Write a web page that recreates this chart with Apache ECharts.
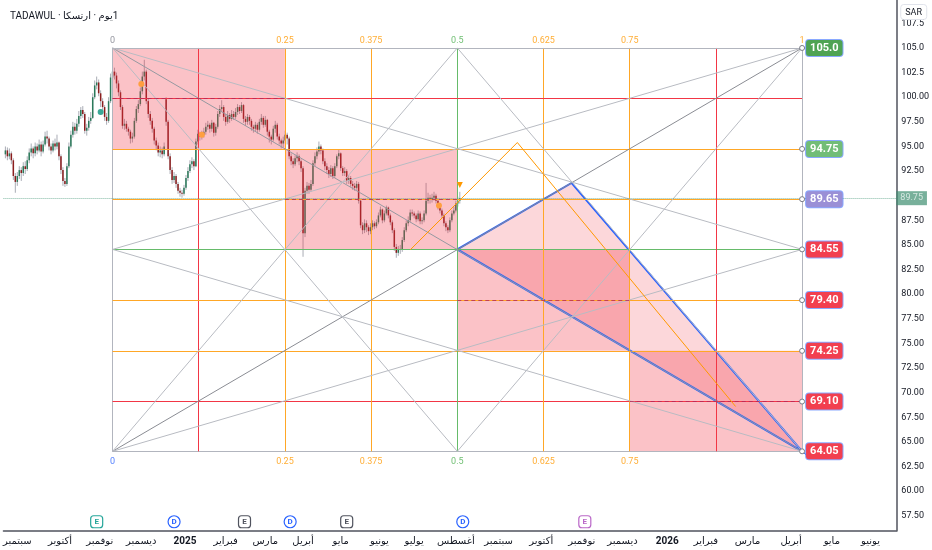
<!DOCTYPE html>
<html>
<head>
<meta charset="utf-8">
<script src="https://cdn.jsdelivr.net/npm/echarts@6/dist/echarts.min.js"></script>
<style>html,body{margin:0;padding:0;background:#fff}#main{width:932px;height:550px}</style>
</head>
<body>
<div id="main"></div>
<script>
// daily candles [open, close, low, high], first one sits on bar 1
const bars = [
[94.2,94.6,93.8,95.0],[94.6,94.0,93.6,94.9],[94.0,94.3,93.7,94.8],[94.3,93.6,93.2,94.5],[93.6,92.0,91.6,93.8],
[92.0,91.4,90.3,92.3],[91.4,92.0,91.0,92.4],[92.0,92.6,91.7,93.0],[92.6,92.3,91.5,92.9],[92.3,93.0,92.0,93.4],
[93.0,92.7,92.2,93.5],[92.7,93.6,92.5,94.0],[93.6,94.4,93.3,94.8],[94.4,94.8,94.0,95.3],[94.8,94.3,93.8,95.0],
[94.3,95.0,94.0,95.4],[95.0,94.6,94.2,95.3],[94.6,95.2,94.4,95.7],[95.2,94.5,94.0,95.5],[94.5,95.2,94.3,95.6],
[95.2,96.0,95.0,96.5],[96.0,95.8,95.3,96.6],[95.8,95.0,94.6,96.0],[95.0,94.6,94.2,95.3],[94.6,95.3,94.4,95.6],
[95.3,95.0,94.6,95.8],[95.0,95.4,94.7,96.2],[95.4,94.0,93.6,95.5],[94.0,92.6,92.2,94.2],[92.6,91.5,91.0,92.9],
[91.5,91.2,90.9,91.8],[91.2,93.0,91.0,93.3],[93.0,95.0,92.8,95.4],[95.0,96.2,94.8,96.6],[96.2,97.0,95.9,97.5],
[97.0,96.6,96.2,97.4],[96.6,97.3,96.3,97.8],[97.3,98.1,97.0,98.6],[98.1,98.7,97.8,99.0],[98.7,98.3,97.9,99.1],
[98.3,96.6,96.3,98.5],[96.6,96.9,96.1,97.3],[96.9,97.6,96.6,98.0],[97.6,97.9,97.3,98.5],[97.9,100.0,97.8,100.4],
[100.0,101.2,99.8,101.7],[101.2,101.5,100.8,102.1],[101.5,100.4,100.1,101.8],[100.4,99.6,99.0,100.7],[99.6,99.0,98.5,99.9],
[99.0,98.0,97.6,99.2],[98.0,97.6,97.2,98.4],[97.6,99.6,97.4,100.0],[99.6,102.0,99.4,102.4],[102.0,102.6,101.7,103.1],
[102.6,102.2,101.8,103.0],[102.2,101.4,100.9,102.5],[101.4,100.5,100.1,101.7],[100.5,99.0,98.7,100.7],[99.0,97.1,96.8,99.2],
[97.1,97.3,96.7,97.8],[97.3,96.8,96.5,97.6],[96.8,96.5,96.1,97.0],[96.5,95.8,95.3,96.7],[95.8,96.0,95.4,96.4],
[96.0,97.6,95.8,97.9],[97.6,98.8,97.4,99.1],[98.8,99.3,98.4,99.7],[99.3,100.6,99.1,101.0],[100.6,102.1,100.3,102.6],
[102.1,102.6,101.7,103.8],[102.6,99.6,99.3,102.8],[99.6,98.3,97.9,99.9],[98.3,97.6,97.2,98.6],[97.6,96.8,96.4,97.9],
[96.8,95.6,95.2,97.0],[95.6,95.1,94.6,95.9],[95.1,94.4,94.0,95.4],[94.4,94.6,93.9,95.0],[94.6,94.2,93.8,94.9],
[94.2,95.0,94.0,95.4],[99.8,97.5,97.1,100.0],[97.5,94.0,93.7,97.7],[94.0,92.6,92.2,94.3],[92.6,91.6,91.2,92.9],
[91.6,92.0,91.3,92.4],[92.0,91.2,90.8,92.2],[91.2,90.5,90.2,91.4],[90.5,90.3,89.9,90.8],[90.3,90.2,89.8,90.6],
[90.2,90.8,90.0,91.1],[90.8,91.8,90.6,92.1],[91.8,92.5,91.5,92.9],[92.5,93.2,92.3,93.6],[93.2,93.5,92.8,93.9],
[93.5,93.0,92.6,93.7],[93.0,95.5,92.9,95.8],[95.5,96.3,95.2,96.7],[96.3,96.0,95.6,96.5],[96.0,96.2,95.7,96.6],
[96.2,96.5,95.9,96.9],[96.5,97.0,96.2,97.4],[97.0,97.2,96.7,97.6],[97.2,96.8,96.4,97.4],[96.8,97.4,96.5,97.7],
[97.4,96.4,96.0,97.5],[96.4,97.0,96.1,97.3],[97.0,98.3,96.8,98.6],[98.3,98.8,98.0,99.2],[98.8,99.0,98.5,99.7],
[99.0,98.0,97.6,99.2],[98.0,97.5,97.1,98.3],[97.5,98.2,97.3,98.6],[98.2,97.8,97.4,98.4],[97.8,98.3,97.6,98.7],
[98.3,98.0,97.7,98.6],[98.0,98.5,97.8,98.9],[98.5,99.0,98.2,99.3],[99.0,98.6,98.3,99.2],[98.6,99.2,98.4,99.5],
[99.2,97.8,97.4,99.3],[97.8,97.5,97.1,98.1],[97.5,98.0,97.2,98.3],[98.0,97.6,97.2,98.2],[97.6,97.0,96.6,97.8],
[97.0,96.8,96.4,97.2],[96.8,97.2,96.5,97.5],[97.2,96.7,96.3,97.4],[96.7,97.5,96.5,97.8],[97.5,97.9,97.2,98.3],
[97.9,97.2,96.9,98.1],[97.2,97.7,97.0,98.1],[97.7,96.5,96.1,97.8],[96.5,96.0,95.4,96.7],[96.0,95.7,95.2,96.2],
[95.7,96.8,95.5,97.1],[96.8,97.2,96.4,97.6],[97.2,96.0,95.7,97.4],[96.0,95.6,95.2,96.3],[95.6,95.3,94.8,95.8],
[95.3,95.6,94.9,96.0],[95.6,96.2,95.3,96.6],[96.2,95.8,95.2,96.4],[95.8,94.0,93.7,96.0],[94.0,93.5,93.1,94.3],
[93.5,93.2,92.8,93.8],[93.2,93.8,93.0,94.1],[93.8,94.0,93.4,94.4],[94.0,93.5,93.1,94.2],[93.5,92.8,92.4,93.7],
[92.8,86.2,83.8,93.0],[86.2,90.5,85.8,90.8],[90.5,91.0,90.2,91.4],[91.0,90.6,90.2,91.3],[90.6,91.2,90.4,91.6],
[91.2,93.3,91.0,93.6],[93.3,94.0,93.0,94.4],[94.0,94.5,93.7,94.9],[94.5,95.0,94.2,95.5],[95.0,94.6,94.2,95.2],
[94.6,93.5,93.2,94.8],[93.5,93.0,92.6,93.8],[93.0,92.6,92.2,93.3],[92.6,92.2,91.8,92.9],[92.2,92.8,91.9,93.1],
[92.8,92.0,91.7,93.0],[92.0,93.0,91.8,93.3],[93.0,94.0,92.8,94.2],[94.0,94.3,93.7,94.7],[94.3,92.8,92.5,94.4],
[92.8,92.3,92.0,93.0],[92.3,92.5,92.0,92.9],[92.5,91.5,91.2,92.7],[91.5,91.8,91.2,92.1],[91.8,91.2,90.9,92.0],
[91.2,91.0,90.6,91.5],[91.0,90.8,90.5,91.3],[90.8,91.2,90.6,91.5],[91.2,89.5,89.2,91.4],[89.5,87.0,86.7,89.7],
[87.0,86.5,86.1,87.3],[86.5,87.2,86.2,87.6],[87.2,86.8,86.3,87.5],[86.8,86.4,86.0,87.0],[86.4,86.8,86.1,87.2],
[86.8,87.2,86.5,87.5],[87.2,86.9,86.6,87.4],[86.9,87.3,86.7,87.6],[87.3,88.0,87.1,88.3],[88.0,88.6,87.8,88.9],
[88.6,87.5,87.2,88.7],[87.5,88.2,87.3,88.5],[88.2,88.8,88.0,89.0],[88.8,88.0,87.7,88.9],[88.0,87.3,87.0,88.2],
[87.3,86.5,86.2,87.5],[86.5,84.8,84.4,86.7],[84.8,84.2,83.7,85.1],[84.2,84.6,83.9,84.9],[84.6,84.5,84.1,85.0],
[84.5,85.5,84.3,85.8],[85.5,86.5,85.3,86.8],[86.5,87.2,86.3,87.5],[87.2,87.5,86.9,87.9],[87.5,88.3,87.3,88.6],
[88.3,88.2,87.9,88.6],[88.2,88.0,87.7,88.4],[88.0,87.6,87.3,88.2],[87.6,88.2,87.4,88.5],[88.2,87.4,87.1,88.4],
[87.4,87.5,87.1,87.8],[87.5,88.2,87.3,88.5],[88.2,89.5,88.0,91.3],[89.5,89.8,89.2,90.3],[89.8,89.6,89.2,90.1],
[89.6,89.8,89.3,90.2],[89.8,90.0,89.5,90.4],[90.0,89.5,89.2,90.2],[89.5,89.0,88.6,89.7],[89.0,88.5,88.2,89.2],
[88.5,88.0,87.7,88.7],[88.0,87.2,86.9,88.2],[87.2,86.8,86.4,87.4],[86.8,86.5,86.2,87.0],[86.5,87.5,86.3,87.8],
[87.5,88.2,87.3,88.5],[88.2,88.5,88.0,88.9],[88.5,89.2,88.3,89.5],[89.2,89.5,88.9,89.9],[89.5,89.75,89.2,90.4]
];
const lastPrice = 89.75;

// month labels of the time scale (bar positions)
const monthPos = [7,28.5,48.5,69.5,91.5,112,132,151,170,189.5,207,228,249.5,271,291.5,312,334.5,354,375,397,417.5,437];
const monthLabels = ['سبتمبر','أكتوبر','نوفمبر','ديسمبر','2025','فبراير','مارس','أبريل','مايو','يونيو','يوليو','أغسطس',
  'سبتمبر','أكتوبر','نوفمبر','ديسمبر','2026','فبراير','مارس','أبريل','مايو','يونيو'];
const priceTicks = [57.5,60,62.5,65,67.5,70,72.5,75,77.5,80,82.5,85,87.5,92.5,95,97.5,100,102.5,105,107.5];

// Gann box
const boxTime = [55, 402.5];
const boxPrice = [64.05, 105.0];
const levelFrac = [0,0.125,0.25,0.375,0.5,0.625,0.75,0.875,1];
const levelPrice = [64.05,69.10,74.25,79.40,84.55,89.65,94.75,99.90,105.0];
const levelText = ['64.05','69.10','74.25','79.40','84.55','89.65','94.75','','105.0'];
const topText = ['0','','0.25','0.375','0.5','0.625','0.75','','1'];
const bottomText = ['0','','0.25','0.375','0.5','0.625','0.75','',''];
// shaded squares [timeFrom, timeTo, priceFrom, priceTo] as box fractions
const zones = [[0,0.25,0.75,1],[0.25,0.5,0.5,0.75],[0.5,0.75,0.25,0.5],[0.75,1,0,0.25]];
const triangle = [[228.75,84.55],[286.3,91.3],[402.5,64.05]];
const forecast = [[205,84.5],[259,95.4],[369,68.6]];

// markers
const dividends = [[69.5,101.35],[100,96.2],[219.5,89.0]];
const splits = [[49,98.5]];
const flagBar = [[230,91.1]];
const events = [[47,'E','done'],[86,'D',''],[121.5,'E',''],[144.5,'D',''],[173,'E',''],[231.5,'D',''],[293,'E','next']];
const eventRow = 56.9;

let myChart = echarts.init(document.getElementById('main'));

function timeAt(f){ return boxTime[0] + f*(boxTime[1]-boxTime[0]); }
function priceAt(f){ return levelPrice[levelFrac.indexOf(f)]; }
function levelColor(f){
    if(f===0||f===1) return '#b2b5be';
    if(f===0.5) return '#66bb6a';
    if(f===0.125||f===0.875) return '#f23645';
    return '#ffa726';
}
function boxColor(f){
    if(f===1) return '#4fa353';
    if(f===0.75) return '#72bd77';
    if(f===0.625) return '#9a8fd6';
    return '#f23f4f';
}

// lines of the gann box
let segs = [];
function seg(a,b,color,width,type){
    segs.push({coords:[a,b], lineStyle:{color:color, width:width||1, type:type||'solid', opacity:1}});
}
levelFrac.forEach(function(f){
    seg([timeAt(f),boxPrice[0]],[timeAt(f),boxPrice[1]],levelColor(f));
    seg([boxTime[0],priceAt(f)],[boxTime[1],priceAt(f)],levelColor(f));
});
let TL=[boxTime[0],boxPrice[1]], TR=[boxTime[1],boxPrice[1]], BL=[boxTime[0],boxPrice[0]], BR=[boxTime[1],boxPrice[0]];
let TM=[timeAt(0.5),boxPrice[1]], BM=[timeAt(0.5),boxPrice[0]], LM=[boxTime[0],priceAt(0.5)], RM=[boxTime[1],priceAt(0.5)];
seg(BL,TR,'#8a8c93'); seg(TL,BR,'#9598a0');
[[BL,TM],[BL,RM],[TL,BM],[TL,RM],[BR,TM],[BR,LM],[TR,BM],[TR,LM]].forEach(function(p){ seg(p[0],p[1],'#b8bbc2'); });
zones.forEach(function(z){
    let mid = priceAt((z[2]+z[3])/2);
    seg([timeAt(z[0]),mid],[timeAt(z[1]),mid],'rgba(180,40,90,0.8)',1,[4,3]);
});

// filled shapes
let polys = [];
zones.forEach(function(z){
    let x0=timeAt(z[0]), x1=timeAt(z[1]), y0=priceAt(z[2]), y1=priceAt(z[3]);
    polys.push({pts:[[x0,y0],[x1,y0],[x1,y1],[x0,y1]], fill:'rgba(242,54,69,0.3)'});
});
polys.push({pts:triangle, fill:'rgba(242,54,69,0.2)', stroke:'#2962ff', lw:2});

function drawPoly(params, api){
    let p = polys[params.dataIndex];
    return {type:'polygon', shape:{points:p.pts.map(function(q){ return api.coord(q); })},
        style:{fill:p.fill, stroke:p.stroke||null, lineWidth:p.lw||0}};
}
function drawCandle(params, api){
    let x=api.value(0), o=api.value(1), c=api.value(2);
    let po=api.coord([x,o]), pc=api.coord([x,c]);
    let pl=api.coord([x,api.value(3)]), ph=api.coord([x,api.value(4)]);
    let w=1.5;
    return {type:'group', children:[
        {type:'line', shape:{x1:pl[0],y1:pl[1],x2:ph[0],y2:ph[1]}, style:{stroke:'#a9acb5', lineWidth:1}},
        {type:'rect', shape:{x:po[0]-w/2, y:Math.min(po[1],pc[1]), width:w, height:Math.max(1,Math.abs(po[1]-pc[1]))},
            style:{fill: c>=o ? '#2b7a5a' : '#8b1d1d'}}
    ]};
}

let fracTop = [], fracBottom = [];
levelFrac.forEach(function(f,i){
    let col = f===0.5 ? '#4caf50' : (f===0 ? '#787b86' : '#ff9800');
    if(topText[i]) fracTop.push({value:[timeAt(f),boxPrice[1],topText[i]], label:{color:col}});
    if(bottomText[i]) fracBottom.push({value:[timeAt(f),boxPrice[0],bottomText[i]], label:{color: f===0 ? '#2962ff' : col}});
});
let priceBoxes = [];
levelFrac.forEach(function(f,i){
    if(levelText[i]) priceBoxes.push({value:[boxTime[1],levelPrice[i],levelText[i]], label:{backgroundColor:boxColor(f)}});
});
let eventData = events.map(function(e){
    let col = e[1]==='D' ? '#2962ff' : (e[2]==='done' ? '#26a69a' : (e[2]==='next' ? '#ba68c8' : '#50535e'));
    return {value:[e[0],eventRow,e[1]], symbol: e[1]==='D' ? 'circle' : 'roundRect',
        itemStyle:{color:'#fff', borderColor:col, borderWidth:1.2}, label:{color:col}};
});

let option = {
    animation:false,
    textStyle:{fontFamily:'Roboto, "Noto Sans", "DejaVu Sans", sans-serif'},
    title:[{
        // pieces kept apart so each keeps its place from left to right
        text:'{a|TADAWUL · }{b|ارتسكا}{c| · }{d|يوم}{e|1}',
        left:5, top:6,
        textStyle:{rich:{
            a:{fontSize:10, color:'#131722', fontWeight:'normal'},
            b:{fontSize:10, color:'#131722', fontWeight:'normal'},
            c:{fontSize:10, color:'#131722', fontWeight:'normal'},
            d:{fontSize:10, color:'#131722', fontWeight:'normal'},
            e:{fontSize:10, color:'#131722', fontWeight:'normal'}
        }}
    },{
        text:'SAR', right:5, top:4,
        borderColor:'#e0e3eb', borderWidth:1, borderRadius:3, padding:[4,5,3,5],
        textStyle:{fontSize:9, fontWeight:'normal', color:'#131722'}
    }],
    grid:{left:0, right:32, top:0, bottom:19},
    xAxis:{
        type:'value', min:0, max:450,
        axisLine:{onZero:false, lineStyle:{color:'#50535e', width:1.5}},
        axisTick:{show:false},
        splitLine:{show:false},
        axisLabel:{
            customValues: monthPos,
            fontSize:10, color:'#131722', margin:5,
            formatter:function(v){
                let t = monthLabels[monthPos.indexOf(v)] || '';
                return /^\d+$/.test(t) ? '{y|'+t+'}' : t;
            },
            rich:{y:{fontSize:10, fontWeight:'bold', color:'#131722'}}
        }
    },
    yAxis:{
        type:'value', position:'right', min:55.96, max:109.87,
        axisLine:{show:true, onZero:false, lineStyle:{color:'#50535e', width:1.5}},
        axisTick:{show:false},
        splitLine:{show:false},
        axisLabel:{
            customValues: priceTicks,
            fontSize:9, color:'#131722', margin:5,
            formatter:function(v){ return v>100 ? v.toFixed(1) : v.toFixed(2); }
        }
    },
    series:[
        {
            type:'custom', renderItem:drawCandle, z:2,
            data: bars.map(function(b,i){ return [i+1,b[0],b[1],b[2],b[3]]; }),
            encode:{x:0, y:[1,2,3,4]}, silent:true
        },
        {
            type:'custom', renderItem:drawPoly, z:3, silent:true,
            data: polys.map(function(p,i){ return [i]; })
        },
        {
            type:'lines', coordinateSystem:'cartesian2d', z:4, silent:true,
            lineStyle:{opacity:1},
            data: segs
        },
        {
            type:'lines', coordinateSystem:'cartesian2d', polyline:true, z:5, silent:true,
            symbol:['none','arrow'], symbolSize:7,
            lineStyle:{color:'#ff9800', width:1, opacity:1},
            data:[{coords:forecast}]
        },
        {
            type:'scatter', z:6, silent:true, symbolSize:6,
            itemStyle:{color:'#ff9f40', opacity:1},
            data: dividends,
            markLine:{
                silent:true, symbol:'none',
                data:[{yAxis:lastPrice}],
                lineStyle:{type:'dotted', color:'#4c9b7c', width:1, opacity:0.7},
                label:{position:'end', distance:0, formatter:lastPrice.toFixed(2),
                    backgroundColor:'#3f8f70', color:'#fff', fontSize:9, padding:[3,4,2,4]}
            }
        },
        {type:'scatter', z:6, silent:true, symbolSize:6, itemStyle:{color:'#3aa796', opacity:1}, data:splits},
        {type:'scatter', z:6, silent:true, symbol:'triangle', symbolRotate:180, symbolSize:6, itemStyle:{color:'#ff9800', opacity:1}, data:flagBar},
        {
            type:'scatter', z:7, silent:true, symbolSize:0, data:fracTop,
            label:{show:true, position:'top', distance:3, fontSize:9, formatter:function(p){ return p.value[2]; }}
        },
        {
            type:'scatter', z:7, silent:true, symbolSize:0, data:fracBottom,
            label:{show:true, position:'bottom', distance:6, fontSize:9, formatter:function(p){ return p.value[2]; }}
        },
        {
            type:'scatter', z:8, silent:true, symbol:'circle', symbolSize:5,
            itemStyle:{color:'#fff', borderColor:'#787b86', borderWidth:1, opacity:1},
            data: priceBoxes,
            label:{show:true, position:'right', distance:1, formatter:function(p){ return p.value[2]; },
                color:'#fff', fontWeight:'bold', fontSize:11, padding:[3,4,2,4], borderRadius:3,
                borderColor:'rgba(41,98,255,0.55)', borderWidth:1, opacity:1}
        },
        {
            type:'scatter', z:8, silent:true, symbolSize:12,
            data: eventData,
            itemStyle:{opacity:1},
            label:{show:true, position:'inside', fontSize:8, fontWeight:'bold', opacity:1, formatter:function(p){ return p.value[2]; }}
        }
    ]
};

myChart.setOption(option);
window.onresize = function(){ myChart.resize(); };
</script>
</body>
</html>
